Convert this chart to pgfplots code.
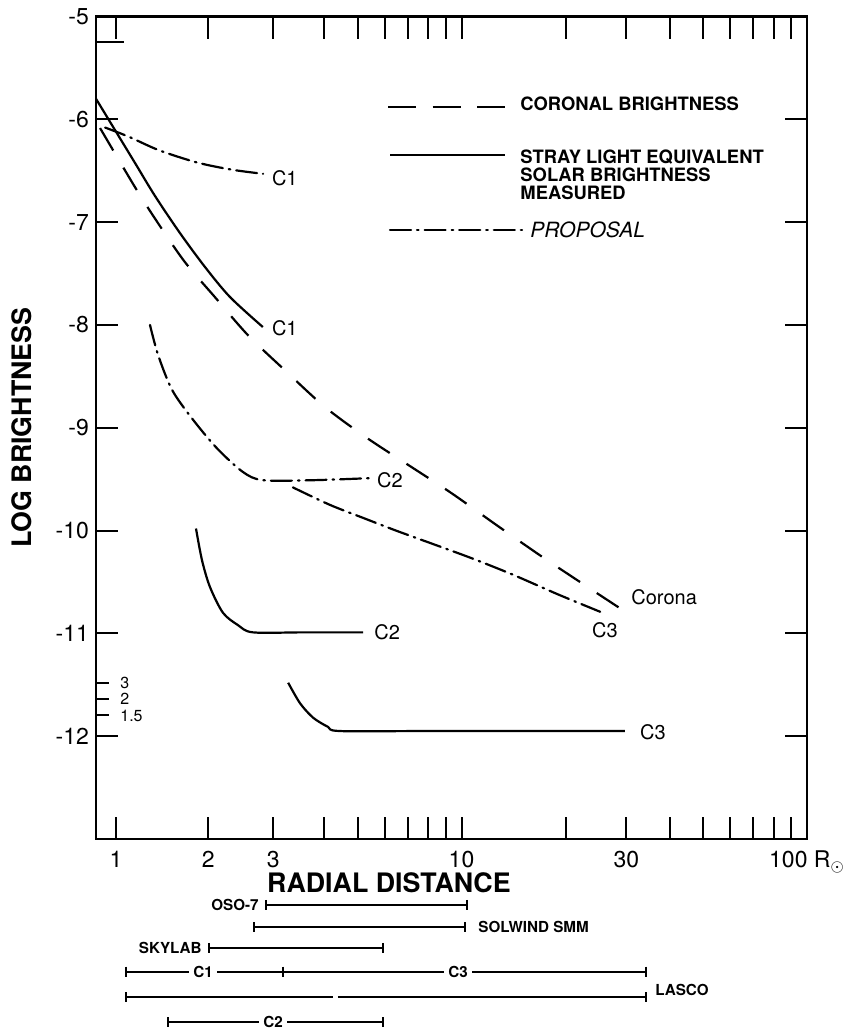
\documentclass[border=0pt]{standalone}
\usepackage{fontspec}
\setmainfont{TeX Gyre Heros}
\usepackage{pgfplots}
\pgfplotsset{compat=1.18}
\tikzset{
  dashdot/.style={black, line width=1.1pt, line cap=round, dash pattern=on 10.5pt off 3pt on 0.8pt off 3pt},
  dashed coronal/.style={black, line width=1.1pt, dash pattern=on 13pt off 10pt},
  solid curve/.style={black, line width=1.1pt},
  coverage/.style={black, line width=1pt, mark=|, mark size=2.5pt, mark options={solid, line width=1pt}},
}
\newcommand\curvefont{\fontsize{10}{12}\selectfont}
\newcommand\barfont{\bfseries\fontsize{7.6}{9}\selectfont}
\begin{document}
\begin{tikzpicture}
\path[use as bounding box] (-48pt,-95.5pt) rectangle (376pt,419.5pt);
\begin{axis}[
  at={(0,0)}, anchor=south west,
  scale only axis, width=355.5pt, height=411.25pt,
  xmode=log, xmin=0.875, xmax=100, ymin=-13, ymax=-5,
  clip=false,
  axis line style={line width=1.3pt},
  tick align=inside, major tick length=11pt,
  every tick/.style={black, line width=1pt},
  minor x tick style={draw=none},
  xtick={1,1.848,2.85,4,5,6,7,8,9,10,20,30,40,50,60,70,80,90,100},
  xticklabels={1,2,3,,,,,,,10,,30,,,,,,,{100 R$_{\odot}$}},
  ytick={-12,-11,-10,-9,-8,-7,-6,-5},
  yticklabels={-12,-11,-10,-9,-8,-7,-6,-5},
  tick label style={font=\fontsize{11.5}{13}\selectfont},
  xticklabel style={yshift=-2.5pt},
  xlabel={RADIAL DISTANCE}, ylabel={LOG BRIGHTNESS},
  label style={font=\bfseries\fontsize{13.4}{15}\selectfont},
  xlabel style={at={(axis description cs:0.412,-0.0535)}, anchor=center},
  ylabel style={at={(axis description cs:-0.104,0.5)}, anchor=center},
]
% coronal brightness
\addplot[dashed coronal, smooth, tension=0.5] coordinates {
  (0.899,-6.085) (1.135,-6.66) (1.323,-7.01) (1.584,-7.39) (1.934,-7.73)
  (2.41,-8.10) (3.08,-8.44) (4.03,-8.80) (5.33,-9.10) (7.0,-9.36)
  (9.39,-9.64) (12.67,-9.95) (17.2,-10.26) (23.2,-10.55) (31.4,-10.84)};
% stray light, measured
\addplot[solid curve, smooth, tension=0.5] coordinates {
  (0.875,-5.8) (0.993,-6.104) (1.135,-6.425) (1.297,-6.746) (1.531,-7.106)
  (1.81,-7.437) (2.138,-7.729) (2.66,-8.02)};
\addplot[solid curve, smooth, tension=0.5] coordinates {
  (1.704,-9.98) (1.774,-10.29) (1.871,-10.55) (2.04,-10.80) (2.255,-10.92)
  (2.49,-10.99) (3.5,-10.99) (5.19,-10.99)};
\addplot[solid curve, smooth, tension=0.5] coordinates {
  (3.15,-11.48) (3.41,-11.68) (3.72,-11.82) (4.11,-11.91) (4.45,-11.95)
  (8,-11.95) (29.7,-11.95)};
% proposal
\addplot[dashdot, smooth, tension=0.5] coordinates {
  (0.93,-6.08) (1.09,-6.17) (1.33,-6.30) (1.716,-6.42) (2.166,-6.49) (2.665,-6.53)};
\addplot[dashdot, smooth, tension=0.5] coordinates {
  (1.254,-8.00) (1.323,-8.29) (1.452,-8.63) (1.66,-8.91) (1.96,-9.20)
  (2.33,-9.43) (2.665,-9.51) (3.72,-9.51) (5.43,-9.49)};
\addplot[dashdot, smooth, tension=0.5] coordinates {
  (3.25,-9.58) (4.16,-9.75) (5.22,-9.88) (6.46,-10.00) (8.10,-10.12)
  (10.72,-10.27) (14.1,-10.43) (19.0,-10.62) (25.2,-10.79)};

% curve labels
\node[font=\curvefont] at (axis cs:3.08,-6.57) {C1};
\node[font=\curvefont] at (axis cs:3.08,-8.03) {C1};
\node[font=\curvefont] at (axis cs:6.21,-9.51) {C2};
\node[font=\curvefont] at (axis cs:6.09,-10.99) {C2};
\node[font=\curvefont] at (axis cs:26.0,-10.97) {C3};
\node[font=\curvefont] at (axis cs:38.6,-10.65) {Corona};
\node[font=\curvefont] at (axis cs:35.8,-11.96) {C3};

% legend
\draw[black, line width=1.1pt, dash pattern=on 14pt off 8.25pt] (axis cs:6.13,-5.88) -- (axis cs:13.37,-5.88);
\node[anchor=west, inner sep=0, font=\bfseries\fontsize{9.2}{9}\selectfont] at (axis cs:14.77,-5.85) {CORONAL BRIGHTNESS};
\draw[solid curve] (axis cs:6.21,-6.347) -- (axis cs:13.37,-6.347);
\node[anchor=west, align=left, inner sep=0, font=\bfseries\fontsize{9.2}{9}\selectfont] at (axis cs:14.77,-6.54) {STRAY LIGHT EQUIVALENT\\SOLAR BRIGHTNESS\\MEASURED};
\draw[dashdot] (axis cs:6.21,-7.077) -- (axis cs:14.97,-7.077);
\node[anchor=west, inner sep=0, font=\itshape\fontsize{10.5}{12}\selectfont] at (axis cs:15.78,-7.077) {PROPOSAL};

% extra short ticks on the left
\draw[line width=1pt] (axis cs:0.875,-5.25) -- ++(14pt,0pt);
\draw[line width=1pt] (axis cs:0.875,-11.48) -- ++(6.5pt,0pt);
\draw[line width=1pt] (axis cs:0.875,-11.64) -- ++(6.5pt,0pt);
\draw[line width=1pt] (axis cs:0.875,-11.79) -- ++(6.5pt,0pt);
\node[anchor=west, inner sep=0, font=\fontsize{8}{9}\selectfont] at ([xshift=12pt]axis cs:0.875,-11.48) {3};
\node[anchor=west, inner sep=0, font=\fontsize{8}{9}\selectfont] at ([xshift=12pt]axis cs:0.875,-11.64) {2};
\node[anchor=west, inner sep=0, font=\fontsize{8}{9}\selectfont] at ([xshift=12pt]axis cs:0.875,-11.80) {1.5};

% instrument coverage below the axis
\addplot[coverage] coordinates {(2.71,-13.64) (10.37,-13.64)};
\node[anchor=east, inner sep=0, font=\barfont] at (axis cs:2.594,-13.64) {OSO-7};
\addplot[coverage] coordinates {(2.51,-13.857) (10.23,-13.857)};
\node[anchor=west, inner sep=0, font=\barfont] at (axis cs:11.16,-13.857) {SOLWIND SMM};
\addplot[coverage] coordinates {(1.86,-14.06) (5.93,-14.06)};
\node[anchor=east, inner sep=0, font=\barfont] at (axis cs:1.774,-14.06) {SKYLAB};
\addplot[coverage] coordinates {(1.069,-14.29) (3.04,-14.29) (34.2,-14.29)};
\node[fill=white, inner sep=2pt, font=\barfont] at (axis cs:1.786,-14.29) {C1};
\node[fill=white, inner sep=2pt, font=\barfont] at (axis cs:9.77,-14.29) {C3};
\addplot[coverage, mark indices={1}] coordinates {(1.069,-14.54) (4.25,-14.54)};
\addplot[coverage, mark indices={2}] coordinates {(4.39,-14.54) (34.2,-14.54)};
\node[anchor=west, inner sep=0, font=\barfont] at (axis cs:36.3,-14.47) {LASCO};
\addplot[coverage] coordinates {(1.414,-14.78) (5.93,-14.78)};
\node[fill=white, inner sep=2pt, font=\barfont] at (axis cs:2.85,-14.78) {C2};
\end{axis}
\end{tikzpicture}
\end{document}
